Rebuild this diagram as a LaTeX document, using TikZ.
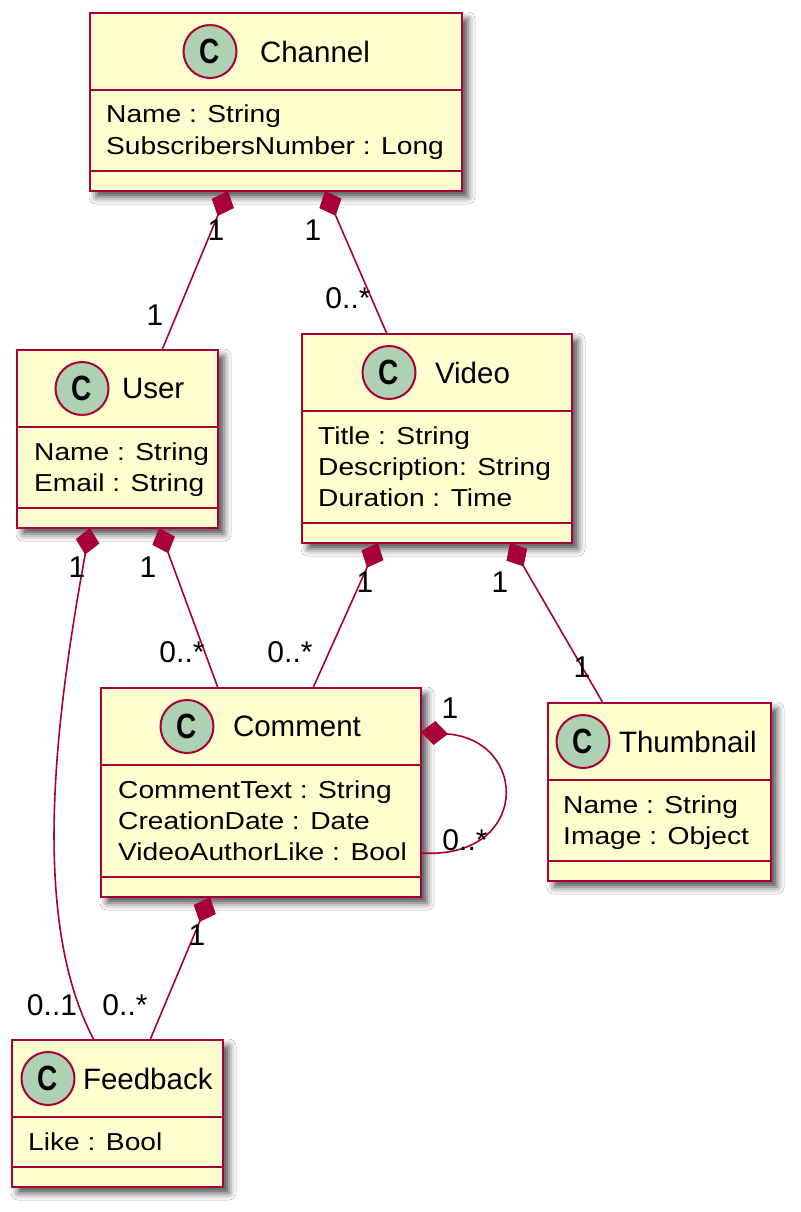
\documentclass[tikz,border=0pt]{standalone}
\usepackage{fontspec}
\setmainfont{Liberation Sans}
\newfontfamily\attrfont{Liberation Sans}[FakeStretch=1.15]
\usetikzlibrary{positioning,arrows.meta,shadows.blur}

\definecolor{umlborder}{HTML}{A80036}
\definecolor{umlfill}{HTML}{FEFECE}
\definecolor{umlspot}{HTML}{ADD1B2}

\tikzset{
  comptip/.tip={Diamond[length=27pt,width=24pt]},
  classbox/.style={rectangle, draw=umlborder, fill=umlfill, line width=2.6pt,
    anchor=north west, inner sep=0pt, outer sep=0pt,
    blur shadow={shadow xshift=6pt, shadow yshift=-6pt, shadow blur radius=7pt, shadow opacity=70}},
  sepline/.style={draw=umlborder, line width=2.2pt},
  spot/.style={circle, draw=umlborder, fill=umlspot, line width=2pt, minimum size=53pt,
    inner sep=0pt, outer sep=0pt, font=\fontsize{35}{35}\selectfont\bfseries},
  classname/.style={inner sep=0pt, outer sep=0pt, font=\fontsize{29.5}{30}\selectfont},
  attr/.style={inner sep=0pt, anchor=base west, font=\attrfont\fontsize{24.5}{31}\selectfont},
  mult/.style={inner sep=0pt, anchor=base, font=\fontsize{30}{30}\selectfont},
  comp/.style={draw=umlborder, line width=1.6pt, comptip-}
}

\begin{document}
\begin{tikzpicture}[x=1pt,y=-1pt]

    \path[use as bounding box, fill=white] (0,0) rectangle (800,1212);

    % Define nodes
    \node[classbox, minimum width=372pt, minimum height=178pt] (channel) at (90,13) {};
    \node[spot] (channelC) at (210,51.5) {\scalebox{0.8}[1]{C}};
    \node[classname, right=23.5pt of channelC] (channelT) {Channel};
    \foreach \a [count=\i from 0] in {Name : String, SubscribersNumber : Long}
      \node[attr] (channel-a\i) at (106,123+31*\i) {\a};

    \node[classbox, minimum width=201pt, minimum height=178pt] (user) at (17,350) {};
    \node[spot] (userC) at (82,388.5) {\scalebox{0.8}[1]{C}};
    \node[classname, right=13.5pt of userC] (userT) {User};
    \foreach \a [count=\i from 0] in {Name : String, Email : String}
      \node[attr] (user-a\i) at (34,460+31*\i) {\a};

    \node[classbox, minimum width=270pt, minimum height=209pt] (video) at (302,334) {};
    \node[spot] (videoC) at (389,372.5) {\scalebox{0.8}[1]{C}};
    \node[classname, right=19.5pt of videoC] (videoT) {Video};
    \foreach \a [count=\i from 0] in {Title : String, Description: String, Duration : Time}
      \node[attr] (video-a\i) at (318,444+31*\i) {\a};

    \node[classbox, minimum width=320pt, minimum height=209pt] (comment) at (101,688) {};
    \node[spot] (commentC) at (187,726.5) {\scalebox{0.8}[1]{C}};
    \node[classname, right=19.5pt of commentC] (commentT) {Comment};
    \foreach \a [count=\i from 0] in {CommentText : String, CreationDate : Date, VideoAuthorLike : Bool}
      \node[attr] (comment-a\i) at (118,798+31*\i) {\a};

    \node[classbox, minimum width=223pt, minimum height=178pt] (thumbnail) at (548,703) {};
    \node[spot] (thumbnailC) at (583,741.5) {\scalebox{0.8}[1]{C}};
    \node[classname, right=9.5pt of thumbnailC] (thumbnailT) {Thumbnail};
    \foreach \a [count=\i from 0] in {Name : String, Image : Object}
      \node[attr] (thumbnail-a\i) at (563,813+31*\i) {\a};

    \node[classbox, minimum width=211pt, minimum height=147pt] (feedback) at (12,1040) {};
    \node[spot] (feedbackC) at (48,1078.5) {\scalebox{0.8}[1]{C}};
    \node[classname, right=8.5pt of feedbackC] (feedbackT) {Feedback};
    \node[attr] (feedback-a0) at (28,1150) {Like : Bool};

    % Compartment lines
    \foreach \c in {channel,user,video,comment,thumbnail,feedback} {
      \draw[sepline] ([yshift=-77pt]\c.north west) -- ([yshift=-77pt]\c.north east);
      \draw[sepline] ([yshift=20pt]\c.south west) -- ([yshift=20pt]\c.south east);
    }

    % Connect the nodes
    \draw[comp] ([xshift=-48pt]channel.south) -- ([xshift=44.5pt]user.north);
    \draw[comp] ([xshift=49pt]channel.south) -- ([xshift=-50pt]video.north);
    \draw[comp] ([xshift=41.5pt]user.south) -- ([xshift=-43pt]comment.north);
    \draw[comp] ([xshift=-27.5pt]user.south) .. controls (55,720) and (30,920) .. ([xshift=-23.5pt]feedback.north);
    \draw[comp] ([xshift=-59pt]video.south) -- ([xshift=52pt]comment.north);
    \draw[comp] ([xshift=73pt]video.south) -- ([xshift=-56.5pt]thumbnail.north);
    \draw[comp] ([yshift=60.5pt]comment.east) .. controls +(109,8) and +(109,7) .. ([yshift=-60.5pt]comment.east);
    \draw[comp] ([xshift=-51pt]comment.south) -- ([xshift=32.5pt]feedback.north);

    % Multiplicities
    \node[mult] (m1) at (216,240) {1};
    \node[mult] (m2) at (155,325) {1};
    \node[mult] (m3) at (313,240) {1};
    \node[mult] (m4) at (348,308) {0..*};
    \node[mult] (m5) at (148,577) {1};
    \node[mult] (m6) at (182,662) {0..*};
    \node[mult] (m7) at (77,577) {1};
    \node[mult] (m8) at (52,1015) {0..1};
    \node[mult] (m9) at (365,592) {1};
    \node[mult] (m10) at (290,662) {0..*};
    \node[mult] (m11) at (500,592) {1};
    \node[mult] (m12) at (582,677) {1};
    \node[mult] (m13) at (450,718) {1};
    \node[mult] (m14) at (465,850) {0..*};
    \node[mult] (m15) at (197,945) {1};
    \node[mult] (m16) at (125,1015) {0..*};

\end{tikzpicture}
\end{document}
